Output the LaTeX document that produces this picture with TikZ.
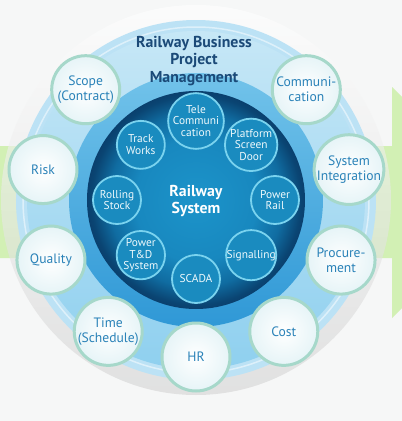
\documentclass[tikz,border=0pt]{standalone}
\usepackage{fontspec}
\setmainfont{PT Sans}
\definecolor{bggray}{HTML}{F6F7F7}
\definecolor{arrowgreen}{HTML}{D2F0B4}
\definecolor{ringout}{HTML}{BCE2F5}
\definecolor{ringtop}{HTML}{C6E7F6}
\definecolor{ringbot}{HTML}{8FD0EF}
\definecolor{midtop}{HTML}{72C3EA}
\definecolor{midbot}{HTML}{2F98D6}
\definecolor{titleblue}{HTML}{1B4A78}
\definecolor{pmtext}{HTML}{2A82B8}
\definecolor{pmline}{HTML}{A6D8CA}
\definecolor{pmfill}{HTML}{E6F4F7}
\definecolor{sysfill}{HTML}{1A8BBF}
\definecolor{sysline}{HTML}{7AD3EF}
\definecolor{systext}{HTML}{EEF9FC}
\definecolor{discA}{HTML}{1C94CA}
\definecolor{discB}{HTML}{1888BF}
\definecolor{discC}{HTML}{106CA1}
\definecolor{discD}{HTML}{0A4573}
\definecolor{discE}{HTML}{0A406E}
\pgfdeclareradialshading{navydisc}{\pgfpoint{0bp}{0bp}}{%
  color(0bp)=(discA); color(14bp)=(discB); color(20bp)=(discC);
  color(24bp)=(discD); color(25bp)=(discE); color(50bp)=(discE)}
\begin{document}
\begin{tikzpicture}[x=1pt,y=1pt,
    pm/.style={circle,draw=pmline,line width=3pt,inner color=white,outer color=pmfill,
      minimum size=68pt,inner sep=0pt,text=pmtext,align=center,
      font=\fontsize{13.6}{15}\selectfont},
    sys/.style={circle,draw=sysline,fill=sysfill,line width=1.8pt,
      minimum size=48pt,inner sep=0pt,text=systext,align=center,
      font=\fontsize{11.4}{11.6}\selectfont},
    heading/.style={align=center,font=\bfseries\fontsize{15.8}{17.6}\selectfont}]

    \clip (-196,-221) rectangle (206,200);
    \fill[bggray] (-196,-221) rectangle (206,200);
    \fill[arrowgreen] (-200,54) -- (196,54) -- (196,113) -- (312,-2)
        -- (196,-118) -- (196,-58) -- (-200,-58) -- cycle;

    \shade[top color=white,bottom color=gray!35,opacity=.6] (0,0) circle (195);
    \fill[ringout] (0,0) circle (180);
    \draw[white,opacity=.5,line width=1.5pt] (0,0) circle (173);
    \shade[top color=ringtop,bottom color=ringbot] (0,0) circle (169);
    \shade[top color=midtop,bottom color=midbot] (0,0) circle (127);
    \shade[shading=navydisc] (0,0) circle (109);

    \node[heading,text=titleblue] (title) at (-2,139) {Railway Business\\Project\\Management};
    \node[heading,text=white] (railsys) at (0,-1) {Railway\\System};

    \node[sys] (tele) at (90:79) {Tele\\Communi\\cation};
    \node[sys] (psd) at (45:78) {Platform\\Screen\\Door};
    \node[sys] (prail) at (0:79) {Power\\Rail};
    \node[sys] (sig) at (-45:78) {Signalling};
    \node[sys] (scada) at (-90:79) {SCADA};
    \node[sys] (ptd) at (-135:78) {Power\\T\&D\\System};
    \node[sys] (stock) at (180:79) {Rolling\\Stock};
    \node[sys] (track) at (135:78) {Track\\Works};

    \node[pm] (scope) at (135:156) {Scope\\(Contract)};
    \node[pm] (comm) at (45:156) {Communi-\\cation};
    \node[pm] (risk) at (168.75:156) {Risk};
    \node[pm] (integ) at (11.25:156) {System\\Integration};
    \node[pm] (quality) at (202.5:157) {Quality};
    \node[pm] (procure) at (337.5:157) {Procure-\\ment};
    \node[pm] (time) at (236.25:158) {Time\\(Schedule)};
    \node[pm] (cost) at (303.75:158) {Cost};
    \node[pm] (hr) at (270:157) {HR};
\end{tikzpicture}
\end{document}
